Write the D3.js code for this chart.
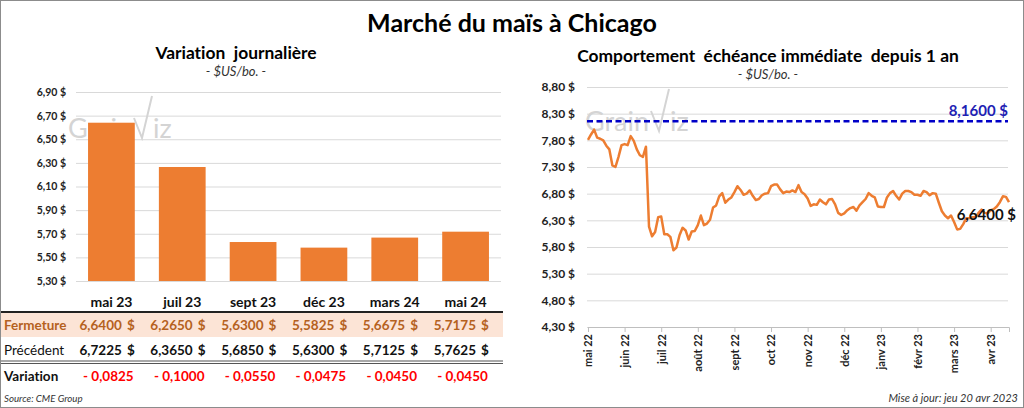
<!DOCTYPE html>
<html>
<head>
<meta charset="utf-8">
<script src="https://cdn.jsdelivr.net/npm/d3@7"></script>
<style>
  body { margin: 0; background: #fff; }
  svg { display: block; font-family: Lato, "Open Sans", sans-serif; font-variant-ligatures: none; }
  text { white-space: pre; }
</style>
</head>
<body>
<svg id="canvas" width="1024" height="408"></svg>
<script>
'use strict';

// daily variation, by contract
const contracts = ['mai 23', 'juil 23', 'sept 23', 'déc 23', 'mars 24', 'mai 24'];
const closing = [6.6400, 6.2650, 5.6300, 5.5825, 5.6675, 5.7175];
const previous = [6.7225, 6.3650, 5.6850, 5.6300, 5.7125, 5.7625];
const change = [-0.0825, -0.1000, -0.0550, -0.0475, -0.0450, -0.0450];
const barTicks = [5.30, 5.50, 5.70, 5.90, 6.10, 6.30, 6.50, 6.70, 6.90];

// nearby contract over one year (about 12 readings a month)
const months = ['mai 22', 'juin 22', 'juil 22', 'août 22', 'sept 22', 'oct 22',
  'nov 22', 'déc 22', 'janv 23', 'févr 23', 'mars 23', 'avr 23'];
const nearby = [
  7.81, 7.91, 8.00, 7.85, 7.83, 7.80, 7.70, 7.63, 7.33, 7.30, 7.49, 7.71,
  7.73, 7.71, 7.88, 7.79, 7.63, 7.52, 7.49, 7.68, 6.18, 6.00, 6.08, 6.36,
  6.37, 6.04, 6.04, 5.99, 5.74, 5.79, 6.02, 6.16, 6.11, 5.94, 6.09, 6.10,
  6.21, 6.39, 6.21, 6.24, 6.31, 6.54, 6.58, 6.75, 6.81, 6.63, 6.69, 6.73,
  6.83, 6.94, 6.87, 6.78, 6.80, 6.86, 6.76, 6.68, 6.70, 6.77, 6.80, 6.81,
  6.94, 6.97, 6.97, 6.88, 6.81, 6.84, 6.83, 6.86, 6.83, 6.96, 6.83, 6.79,
  6.71, 6.57, 6.60, 6.59, 6.69, 6.64, 6.60, 6.69, 6.70, 6.60, 6.44, 6.40,
  6.43, 6.49, 6.53, 6.55, 6.48, 6.58, 6.64, 6.70, 6.81, 6.76, 6.73, 6.56,
  6.55, 6.55, 6.73, 6.81, 6.85, 6.76, 6.69, 6.80, 6.85, 6.85, 6.83, 6.78,
  6.78, 6.76, 6.85, 6.83, 6.77, 6.81, 6.80, 6.63, 6.47, 6.39, 6.34, 6.39,
  6.27, 6.13, 6.14, 6.23, 6.34, 6.34, 6.36, 6.36, 6.44, 6.50, 6.44, 6.43,
  6.49, 6.51, 6.56, 6.64, 6.75, 6.74, 6.64
];
const yearHigh = 8.16;
const lineTicks = [4.30, 4.80, 5.30, 5.80, 6.30, 6.80, 7.30, 7.80, 8.30, 8.80];

const kOrange = '#ED7D31';
const kGrid = '#d9d9d9';

function Money2(v) {
  return v.toFixed(2).replace('.', ',') + ' $';
}
function Money4(v) {
  return v.toFixed(4).replace('.', ',');
}

function Watermark(g, x, y) {
  const w = g.append('g').attr('transform', 'translate(' + x + ',' + y + ')')
      .attr('fill', '#d4d4d4').style('font-size', '27px');
  w.append('text').text('Grain');
  w.append('path')
      .attr('d', 'M66,-20 L74,0 L84,-42')
      .attr('fill', 'none').attr('stroke', '#d4d4d4').attr('stroke-width', 2);
  w.append('text').attr('x', 85).text('iz');
}

function DrawFrame(svg) {
  svg.append('rect')
      .attr('x', 0.5).attr('y', 0.5).attr('width', 1023).attr('height', 407)
      .attr('fill', 'none').attr('stroke', '#8c8c8c');
  svg.append('text')
      .attr('x', 512).attr('y', 32).attr('text-anchor', 'middle')
      .style('font-size', '25px').style('font-weight', 'bold')
      .text('Marché du maïs à Chicago');
  svg.append('text')
      .attr('x', 4).attr('y', 402)
      .style('font-size', '9.7px').style('font-style', 'italic').attr('fill', '#333')
      .text('Source: CME Group');
  svg.append('text')
      .attr('x', 1018).attr('y', 402).attr('text-anchor', 'end')
      .style('font-size', '11px').style('font-style', 'italic').attr('fill', '#333')
      .text('Mise à jour: jeu 20 avr 2023');
}

function DrawBars(svg) {
  const y = d3.scaleLinear().domain([5.3, 6.9]).range([281, 92]);
  const x = d3.scaleBand().domain(contracts).range([76, 501])
      .paddingInner(0.34).paddingOuter(0.17);

  svg.append('text')
      .attr('x', 236).attr('y', 59).attr('text-anchor', 'middle')
      .style('font-size', '17.4px').style('font-weight', 'bold')
      .text('Variation  journalière');
  svg.append('text')
      .attr('x', 236).attr('y', 76).attr('text-anchor', 'middle')
      .style('font-size', '13px').style('font-style', 'italic').attr('fill', '#333')
      .text('- $US/bo. -');

  const yAxis = svg.append('g')
      .attr('transform', 'translate(76,0)')
      .call(d3.axisLeft(y).tickValues(barTicks).tickFormat(Money2)
        .tickSize(-425).tickPadding(10));
  yAxis.select('.domain').remove();
  yAxis.selectAll('line').attr('stroke', kGrid);
  yAxis.selectAll('text').style('font-size', '10.5px').style('font-weight', 'bold')
      .attr('fill', '#222').style('font-family', 'Lato, sans-serif');

  Watermark(svg, 68, 138);

  svg.append('g').selectAll('rect')
      .data(closing)
    .enter().append('rect')
      .attr('x', function(d, i) { return x(contracts[i]); })
      .attr('y', function(d) { return y(d); })
      .attr('width', x.bandwidth())
      .attr('height', function(d) { return y(5.3) - y(d); })
      .attr('fill', kOrange);

  const xAxis = svg.append('g')
      .attr('transform', 'translate(0,281)')
      .call(d3.axisBottom(x).tickSize(0).tickPadding(16));
  xAxis.select('.domain').remove();
  xAxis.selectAll('text').style('font-size', '14px').style('font-weight', 'bold')
      .attr('fill', '#111').style('font-family', 'Lato, sans-serif');

  // table under the bars
  svg.append('rect')
      .attr('x', 1).attr('y', 313).attr('width', 502).attr('height', 24)
      .attr('fill', '#FCE4D6');
  svg.append('line')
      .attr('x1', 1).attr('x2', 503).attr('y1', 312).attr('y2', 312)
      .attr('stroke', '#222').attr('stroke-width', 2);
  [361, 363.5].forEach(function(ly) {
    svg.append('line')
        .attr('x1', 1).attr('x2', 503).attr('y1', ly).attr('y2', ly)
        .attr('stroke', '#555').attr('stroke-width', 1.2);
  });

  const rows = [
    {label: 'Fermeture', values: closing, y: 330, color: '#B5611E', labelWeight: 'bold'},
    {label: 'Précédent', values: previous, y: 355, color: '#111', labelWeight: 'normal'}
  ];
  rows.forEach(function(row) {
    svg.append('text')
        .attr('x', 4).attr('y', row.y)
        .style('font-size', '13.5px').style('font-weight', row.labelWeight)
        .attr('fill', row.color)
        .text(row.label);
    const cells = svg.append('g').selectAll('g')
        .data(row.values)
      .enter().append('g')
        .attr('transform', function(d, i) {
          return 'translate(' + (x(contracts[i]) + x.bandwidth()) + ',' + row.y + ')';
        })
        .style('font-size', '13.5px').style('font-weight', 'bold').attr('fill', row.color);
    cells.append('text')
        .attr('x', -13).attr('text-anchor', 'end')
        .text(function(d) { return Money4(d); });
    cells.append('text')
        .attr('x', 0).attr('text-anchor', 'end')
        .text('$');
  });

  svg.append('text')
      .attr('x', 4).attr('y', 381)
      .style('font-size', '13.5px').style('font-weight', 'bold').attr('fill', '#111')
      .text('Variation');
  svg.append('g').selectAll('text')
      .data(change)
    .enter().append('text')
      .attr('x', function(d, i) { return x(contracts[i]) - 5; })
      .attr('y', 381)
      .style('font-size', '13.5px').style('font-weight', 'bold').attr('fill', '#FF0000')
      .text(function(d) { return (d < 0 ? '- ' : '+ ') + Money4(Math.abs(d)); });
}

function DrawLine(svg) {
  const y = d3.scaleLinear().domain([4.3, 8.8]).range([327, 87]);
  const x = d3.scaleLinear().domain([0, 11.5]).range([588, 1009]);

  svg.append('text')
      .attr('x', 768).attr('y', 62).attr('text-anchor', 'middle')
      .style('font-size', '17.4px').style('font-weight', 'bold')
      .text('Comportement  échéance immédiate  depuis 1 an');
  svg.append('text')
      .attr('x', 768).attr('y', 79).attr('text-anchor', 'middle')
      .style('font-size', '13px').style('font-style', 'italic').attr('fill', '#333')
      .text('- $US/bo. -');

  const yAxis = svg.append('g')
      .attr('transform', 'translate(587,0)')
      .call(d3.axisLeft(y).tickValues(lineTicks).tickFormat(Money2)
        .tickSize(-421).tickPadding(12));
  yAxis.select('.domain').remove();
  yAxis.selectAll('line').attr('stroke', kGrid);
  yAxis.selectAll('text').style('font-size', '12px').style('font-weight', 'bold')
      .attr('fill', '#222').style('font-family', 'Lato, sans-serif');

  const xAxis = svg.append('g')
      .attr('transform', 'translate(0,327)')
      .call(d3.axisBottom(x).tickValues(d3.range(months.length))
        .tickFormat(function(i) { return months[i]; }).tickSize(5));
  xAxis.select('.domain').attr('stroke', '#bfbfbf');
  xAxis.selectAll('line').attr('stroke', '#bfbfbf');
  xAxis.selectAll('text')
      .attr('transform', 'rotate(-90)')
      .attr('x', -7).attr('y', 0).attr('dy', '0.35em')
      .attr('text-anchor', 'end')
      .style('font-size', '11px').style('font-weight', 'bold')
      .attr('fill', '#222').style('font-family', 'Lato, sans-serif');

  Watermark(svg, 585, 131);

  svg.append('line')
      .attr('x1', 587).attr('x2', 1008)
      .attr('y1', y(yearHigh)).attr('y2', y(yearHigh))
      .attr('stroke', '#0000C8').attr('stroke-width', 2.5)
      .attr('stroke-dasharray', '6,3.5');
  svg.append('text')
      .attr('x', 1008).attr('y', y(yearHigh) - 5).attr('text-anchor', 'end')
      .style('font-size', '15px').style('font-weight', 'bold').attr('fill', '#1F1FB4')
      .text(Money4(yearHigh) + ' $');

  const line = d3.line()
      .x(function(d, i) { return x(i / 12); })
      .y(function(d) { return y(d); });
  svg.append('path')
      .datum(nearby)
      .attr('d', line)
      .attr('fill', 'none')
      .attr('stroke', kOrange)
      .attr('stroke-width', 2.5)
      .attr('stroke-linejoin', 'round');

  const last = nearby[nearby.length - 1];
  svg.append('text')
      .attr('x', 1016).attr('y', y(last) + 18).attr('text-anchor', 'end')
      .style('font-size', '15px').style('font-weight', 'bold').attr('fill', '#111')
      .text(Money4(last) + ' $');
}

function Main() {
  const svg = d3.select('#canvas');
  DrawFrame(svg);
  DrawBars(svg);
  DrawLine(svg);
}

Main();
</script>
</body>
</html>
